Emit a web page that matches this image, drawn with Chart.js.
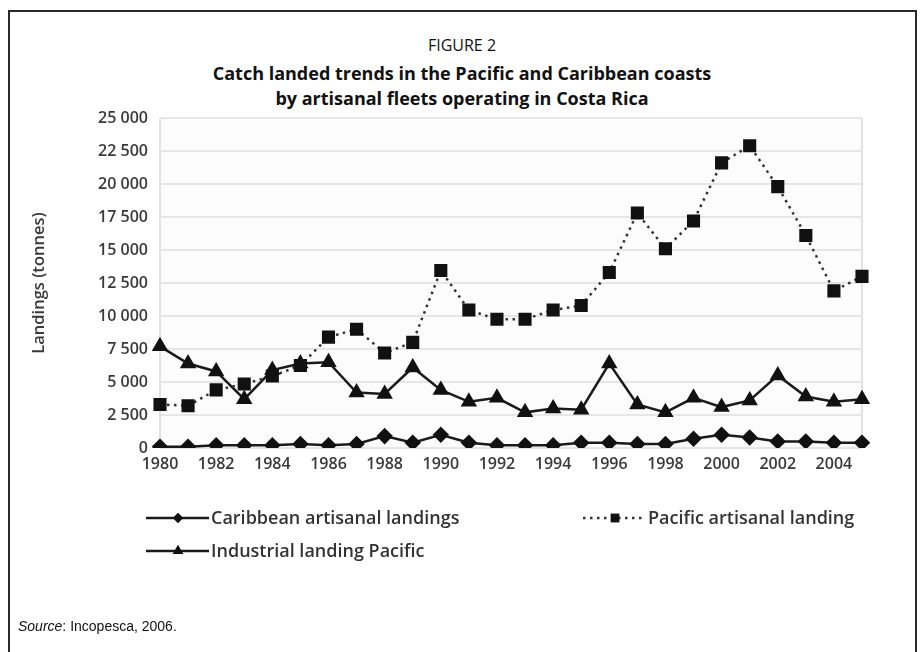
<!DOCTYPE html>
<html><head><meta charset="utf-8">
<script src="https://cdn.jsdelivr.net/npm/chart.js@4"></script>
<style>
html,body{margin:0;padding:0;background:#fff;}
#wrap{position:relative;width:924px;height:652px;overflow:hidden;background:#fff;}
#frame{position:absolute;left:8px;top:10px;width:909px;height:660px;border:2px solid #2a2a2a;box-sizing:border-box;}
.t{position:absolute;left:0;width:924px;text-align:center;color:#111;white-space:nowrap;}
#fig{top:34px;font:16px "Open Sans",sans-serif;}
#tt1{top:61px;font:bold 18px "Open Sans",sans-serif;}
#tt2{top:86px;font:bold 18px "Open Sans",sans-serif;}
#src{position:absolute;left:18px;top:618px;font:14px "Liberation Sans",Arial,sans-serif;color:#111;}
canvas{position:absolute;left:0;top:0;}
</style></head>
<body><div id="wrap">
<div id="frame"></div>
<div class="t" id="fig">FIGURE 2</div>
<div class="t" id="tt1">Catch landed trends in the Pacific and Caribbean coasts</div>
<div class="t" id="tt2">by artisanal fleets operating in Costa Rica</div>
<canvas id="c" width="924" height="652"></canvas>
<div id="src"><i>Source</i>: Incopesca, 2006.</div>
</div>
<script>
const years = ["1980","1981","1982","1983","1984","1985","1986","1987","1988","1989","1990","1991","1992","1993","1994","1995","1996","1997","1998","1999","2000","2001","2002","2003","2004","2005"];
const caribbeanArtisanal = [100,100,200,200,200,300,200,300,900,400,1000,400,200,200,200,400,400,300,300,700,1000,800,500,500,400,400];
const pacificArtisanal = [3300,3200,4400,4850,5450,6250,8400,9000,7200,8000,13450,10450,9750,9750,10450,10800,13300,17800,15100,17200,21600,22900,19800,16100,11900,13000];
const industrialPacific = [7700,6400,5800,3700,5900,6400,6500,4200,4100,6100,4400,3500,3800,2700,3000,2900,6400,3300,2700,3800,3100,3600,5500,3900,3500,3700];
const seriesNames = ["Caribbean artisanal landings","Pacific artisanal landing","Industrial landing Pacific"];
const yTitle = "Landings (tonnes)";

const FONT = '"Open Sans","Noto Sans",sans-serif';

const legendPlugin = {
  id:'customLegend',
  afterDraw(chart){
    const ctx = chart.ctx;
    const pos = [[146,518],[583,518],[146,551]];
    chart.data.datasets.forEach((ds,i)=>{
      const [x,y] = pos[i];
      ctx.save();
      ctx.strokeStyle = ds.borderColor;
      ctx.lineWidth = ds.borderWidth;
      ctx.setLineDash(ds.borderDash || []);
      ctx.beginPath(); ctx.moveTo(x,y); ctx.lineTo(x+63,y); ctx.stroke();
      ctx.setLineDash([]);
      ctx.fillStyle = ds.pointBackgroundColor;
      Chart.helpers.drawPoint(ctx,{pointStyle:ds.pointStyle,radius:ds.legendRadius,rotation:0,borderWidth:0},x+32,y);
      ctx.fill();
      ctx.fillStyle = '#333';
      ctx.font = '600 18px '+FONT;
      ctx.textBaseline = 'middle';
      ctx.fillText(ds.label, x+65, y+1);
      ctx.restore();
    });
  }
};

const bgPlugin = {
  id:'areaBg',
  beforeDraw(chart){
    const a = chart.chartArea, ctx = chart.ctx;
    ctx.save(); ctx.fillStyle='#fcfcfc'; ctx.fillRect(a.left,a.top,a.right-a.left,a.bottom-a.top); ctx.restore();
  }
};

new Chart(document.getElementById('c'),{
  type:'line',
  data:{
    labels:years,
    datasets:[
      {label:seriesNames[0],data:caribbeanArtisanal,borderColor:'#1a1a1a',backgroundColor:'#1a1a1a',pointBackgroundColor:'#111',pointBorderColor:'#111',borderWidth:2.5,pointStyle:'rectRot',pointRadius:6.5,legendRadius:5,tension:0},
      {label:seriesNames[1],data:pacificArtisanal,borderColor:'#333',backgroundColor:'#111',pointBackgroundColor:'#111',pointBorderColor:'#111',borderWidth:2.5,borderDash:[2.5,4.5],pointStyle:'rect',pointRadius:7.5,legendRadius:6,tension:0},
      {label:seriesNames[2],data:industrialPacific,borderColor:'#1a1a1a',backgroundColor:'#1a1a1a',pointBackgroundColor:'#111',pointBorderColor:'#111',borderWidth:2.5,pointStyle:'triangle',pointRadius:7,legendRadius:6,tension:0}
    ]
  },
  options:{
    responsive:false,animation:false,
    layout:{padding:{left:29,top:118,right:62,bottom:174}},
    plugins:{legend:{display:false},tooltip:{enabled:false},title:{display:false}},
    scales:{
      x:{
        offset:false,
        grid:{drawTicks:false,lineWidth:2,color:(c)=> (c.index===0||c.index===years.length-1)?'#e2e2e2':'rgba(0,0,0,0)'},
        border:{display:false},
        ticks:{autoSkip:false,maxRotation:0,padding:7,color:'#3a3a3a',font:{family:FONT,size:16,weight:'600'},
          callback:(v,i)=> (i%2===0 && i<years.length-1)?years[i]:''},
        afterFit:(s)=>{s.height=30;}
      },
      y:{
        min:0,max:25000,
        grid:{drawTicks:false,lineWidth:2,color:'#e6e6e6'},
        border:{display:false},
        ticks:{stepSize:2500,padding:12,color:'#3a3a3a',font:{family:FONT,size:16,weight:'600'},
          callback:(v)=> String(v).replace(/\B(?=(\d{3})+(?!\d))/g,' ')},
        title:{display:true,text:yTitle,color:'#3a3a3a',font:{family:FONT,size:16.5,weight:'600'},padding:{top:0,bottom:0}},
        afterFit:(s)=>{s.width=131;}
      }
    }
  },
  plugins:[bgPlugin,legendPlugin]
});
</script>
</body></html>
